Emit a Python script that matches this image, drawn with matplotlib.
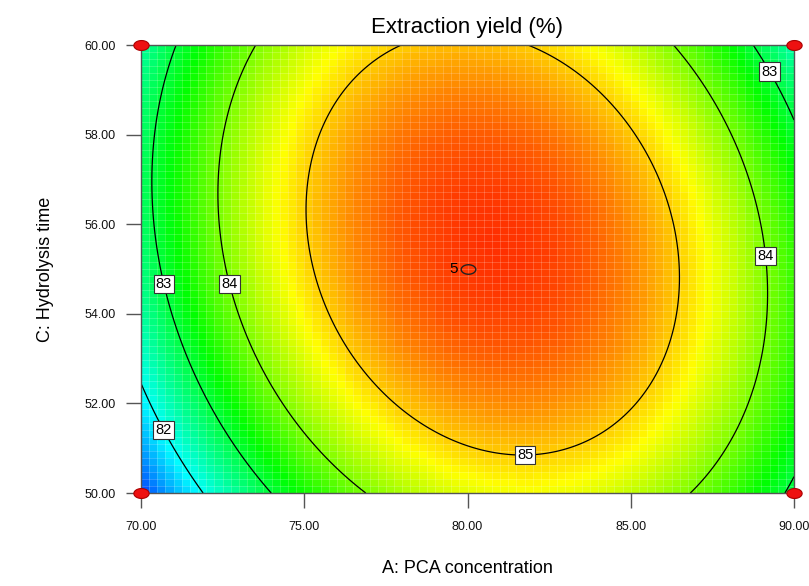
import numpy as np
import matplotlib
matplotlib.use("Agg")
import matplotlib.pyplot as plt
from matplotlib.colors import ListedColormap, hsv_to_rgb
from matplotlib.path import Path

plt.rcParams["font.family"] = ["Liberation Sans", "DejaVu Sans"]

# Quadratic response-surface model in coded units
# a = (A - 80) / 10, c = (C - 55) / 5
model_terms = ["1", "a", "c", "ac", "a2", "c2"]
model_coefs = [85.8237, 0.4749, 0.2642, -0.5226, -2.6902, -0.9872]

# Factor ranges
a_range = [70.0, 90.0]
c_range = [50.0, 60.0]
x_ticks = [70.0, 75.0, 80.0, 85.0, 90.0]
y_ticks = [50.0, 52.0, 54.0, 56.0, 58.0, 60.0]

# Contour levels and where their labels sit
contour_levels = [82, 83, 84, 85]
label_positions = [(70.8, 51.45), (70.74, 54.67), (72.73, 54.67),
                   (89.3, 55.3), (89.33, 59.44), (81.76, 50.9)]

# Design points
design_a = [70.0, 70.0, 90.0, 90.0]
design_c = [50.0, 60.0, 50.0, 60.0]
center_a = [80.0]
center_c = [55.0]
center_reps = ["5"]

title = "Extraction yield (%)"
x_label = "A: PCA concentration"
y_label = "C: Hydrolysis time"


def response(A, C):
    a = (A - 80.0) / 10.0
    c = (C - 55.0) / 5.0
    b0, b1, b3, b13, b11, b33 = model_coefs
    return b0 + b1 * a + b3 * c + b13 * a * c + b11 * a * a + b33 * c * c


# Rainbow colour map: blue -> cyan -> green -> yellow -> red
hues = np.linspace(240, 0, 256) / 360.0
rainbow = ListedColormap(hsv_to_rgb(np.column_stack([hues, np.ones(256), np.ones(256)])))

fig = plt.figure(figsize=(8.09, 5.86), dpi=100)
ax = fig.add_axes([0.1743, 0.1587, 0.8072, 0.7645])

# Coloured cells
nx, ny = 80, 64
xe = np.linspace(*a_range, nx + 1)
ye = np.linspace(*c_range, ny + 1)
xc = 0.5 * (xe[:-1] + xe[1:])
yc = 0.5 * (ye[:-1] + ye[1:])
Zc = response(*np.meshgrid(xc, yc))
ax.pcolormesh(xe, ye, Zc, cmap=rainbow, vmin=80.535, vmax=86.137,
              shading="flat", zorder=1)
ax.vlines(xe[1:-1], *c_range, colors="white", alpha=0.22, lw=0.6, zorder=2)
ax.hlines(ye[1:-1], *a_range, colors="white", alpha=0.22, lw=0.6, zorder=2)

# Contour lines
xf = np.linspace(*a_range, 400)
yf = np.linspace(*c_range, 400)
XF, YF = np.meshgrid(xf, yf)
cs = ax.contour(XF, YF, response(XF, YF), levels=contour_levels,
                colors="black", linewidths=0.9, zorder=3)
labels = ax.clabel(cs, fmt="%d", fontsize=10.5, inline=False,
                   manual=label_positions)
for t in labels:
    t.set_rotation(0)
    t.set_bbox(dict(boxstyle="square,pad=0.15", fc="white", ec="#333333", lw=0.8))
    t.set_zorder(5)

# Elliptical marker for design points
theta = np.linspace(0, 2 * np.pi, 60)
ellipse = Path(np.column_stack([np.cos(theta), 0.65 * np.sin(theta)]), closed=True)

ax.plot(design_a, design_c, linestyle="none", marker=ellipse, ms=11,
        mfc="#ee1111", mec="#aa0000", mew=0.8, clip_on=False, zorder=6)
ax.plot(center_a, center_c, linestyle="none", marker=ellipse, ms=10.5,
        mfc="none", mec="#222222", mew=1.0, zorder=6)
for xa, yc_, n in zip(center_a, center_c, center_reps):
    ax.annotate(n, (xa, yc_), xytext=(-7, 0), textcoords="offset points",
                ha="right", va="center", fontsize=11, zorder=6)

ax.set_xlim(*a_range)
ax.set_ylim(*c_range)
ax.set_xticks(x_ticks)
ax.set_yticks(y_ticks)
ax.set_xticklabels([f"{v:.2f}" for v in x_ticks])
ax.set_yticklabels([f"{v:.2f}" for v in y_ticks])
ax.tick_params(axis="both", direction="out", length=11, width=1.0,
               color="#555555", labelsize=9, labelcolor="#111111")
ax.tick_params(axis="x", pad=9)
ax.tick_params(axis="y", pad=7)
for s in ax.spines.values():
    s.set_color("#555555")
    s.set_linewidth(1.0)
    s.set_zorder(4)

fig.text(0.5775, 0.953, title, ha="center", va="center", fontsize=16)
fig.text(0.5775, 0.016, x_label, ha="center", va="bottom", fontsize=13)
fig.text(0.056, 0.54, y_label, ha="center", va="center", rotation=90, fontsize=13)

fig.savefig("out.png", dpi=100)
